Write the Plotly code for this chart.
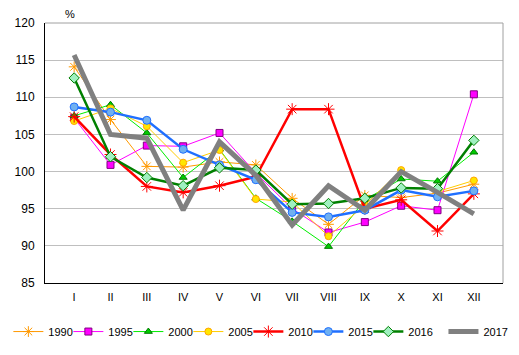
import plotly.graph_objects as go

months = ["I", "II", "III", "IV", "V", "VI", "VII", "VIII", "IX", "X", "XI", "XII"]

y1990 = [114.1, 107.0, 100.7, 100.6, 101.3, 100.9, 96.4, 92.9, 96.8, 96.5, 97.1, 98.3]
y1995 = [107.2, 100.9, 103.5, 103.4, 105.2, 99.8, 95.0, 91.8, 93.2, 95.4, 94.8, 110.4]
y2000 = [107.5, 109.0, 105.2, 99.2, 103.0, 96.4, 93.3, 89.9, 96.2, 99.0, 98.7, 102.6]
y2005 = [106.8, 108.5, 106.1, 101.2, 102.9, 96.3, 95.9, 91.3, 95.5, 100.2, 97.3, 98.8]
y2010 = [107.4, 102.3, 98.0, 97.2, 98.1, 99.3, 108.4, 108.4, 95.0, 96.2, 92.0, 97.0]
y2015 = [108.7, 108.0, 106.9, 103.0, 100.9, 98.9, 94.5, 93.9, 94.8, 97.5, 96.6, 97.4]
y2016 = [112.6, 102.0, 99.2, 98.1, 100.5, 100.2, 95.6, 95.7, 96.4, 97.8, 97.7, 104.2]
y2017 = [115.7, 105.0, 104.5, 94.8, 104.0, 99.5, 92.8, 98.1, 94.8, 100.0, 97.2, 94.3]

series = [
    ("1990", y1990, dict(color="#FF9900", width=1), dict(symbol="asterisk-open", size=9, color="#FF9900", line=dict(color="#FF9900", width=1))),
    ("1995", y1995, dict(color="#FF00FF", width=1), dict(symbol="square", size=7, color="#FF00FF", line=dict(color="#800080", width=1))),
    ("2000", y2000, dict(color="#00EE00", width=1), dict(symbol="triangle-up", size=7, color="#00CC00", line=dict(color="#007700", width=1))),
    ("2005", y2005, dict(color="#FFCC00", width=1), dict(symbol="circle", size=7, color="#FFE600", line=dict(color="#FFA500", width=1))),
    ("2010", y2010, dict(color="#FF0000", width=2.5), dict(symbol="asterisk-open", size=10, color="#FF0000", line=dict(color="#FF0000", width=1))),
    ("2015", y2015, dict(color="#1F6FFF", width=2.5), dict(symbol="circle", size=8, color="#70B0F0", line=dict(color="#1F6FFF", width=1))),
    ("2016", y2016, dict(color="#008000", width=2.5), dict(symbol="diamond", size=8, color="#A0F0C0", line=dict(color="#008000", width=1))),
]

fig = go.Figure()
for name, ys, ln, mk in series:
    fig.add_trace(go.Scatter(x=months, y=ys, name=name, mode="lines+markers", line=ln, marker=mk))
# invisible spacer entry so the last visible legend text is not clipped
fig.add_trace(go.Scatter(x=[None], y=[None], name=" ", mode="lines", showlegend=True,
                         line=dict(color="rgba(0,0,0,0)", width=0), hoverinfo="skip"))
fig.add_trace(go.Scatter(x=months, y=y2017, name="2017", mode="lines", legend="legend2",
                         line=dict(color="#808080", width=5)))

fig.update_layout(
    width=511, height=347,
    margin=dict(l=37, r=16, t=15, b=72, autoexpand=False),
    paper_bgcolor="white", plot_bgcolor="white",
    font=dict(family="Liberation Sans, Arial, sans-serif", size=11, color="black"),
    showlegend=True,
    legend=dict(orientation="h", x=-0.08, xanchor="left", y=-0.131, yanchor="top",
                entrywidth=15, entrywidthmode="pixels", font=dict(size=11),
                tracegroupgap=0, itemwidth=30),
    legend2=dict(orientation="h", x=0.87, xanchor="left", y=-0.131, yanchor="top",
                 font=dict(size=11), itemwidth=30),
    xaxis=dict(type="category", showgrid=False, showline=True, linecolor="black", linewidth=1,
               ticks="", tickfont=dict(size=11), ticklabelstandoff=4, zeroline=False),
    yaxis=dict(range=[85, 120], dtick=5, showgrid=True, gridcolor="#BFBFBF", gridwidth=1,
               showline=True, linecolor="black", linewidth=1, ticks="",
               tickfont=dict(size=12), ticklabelstandoff=7, zeroline=False),
    shapes=[
        dict(type="line", xref="paper", yref="paper", x0=0, x1=1, y0=1, y1=1, line=dict(color="#A0A0A0", width=1)),
        dict(type="line", xref="paper", yref="paper", x0=1, x1=1, y0=0, y1=1, line=dict(color="#A0A0A0", width=1)),
    ],
    annotations=[dict(text="%", xref="paper", yref="paper", x=0.055, y=1.0, xanchor="center",
                      yanchor="bottom", showarrow=False, font=dict(size=11), yshift=1)],
)

fig.write_html("out.html")
